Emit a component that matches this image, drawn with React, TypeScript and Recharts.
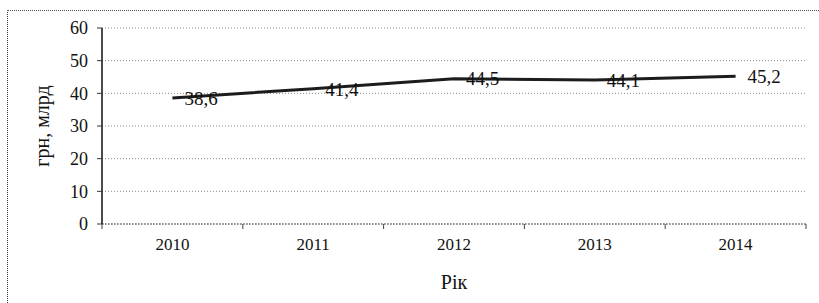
import React from 'react';
import { LineChart, Line, XAxis, YAxis, CartesianGrid, LabelList, Label } from 'recharts';

const years = ['2010', '2011', '2012', '2013', '2014'];
const values = [38.6, 41.4, 44.5, 44.1, 45.2];
const yTicks = [0, 10, 20, 30, 40, 50, 60];
const yTitle = 'грн, млрд';
const xTitle = 'Рік';

const data = years.map((y, i) => ({ year: y, value: values[i] }));

const FONT = '"Liberation Serif"';
const TXT = { fontFamily: FONT };

const XTick = (props: any) => {
  const { x, y, payload, index, visibleTicksCount } = props;
  const off = payload && payload.offset ? payload.offset : 70.4;
  const axisY = y - 14;
  const isLast = index === (visibleTicksCount ?? years.length) - 1;
  return (
    <g>
      <line x1={x - off} y1={axisY} x2={x - off} y2={axisY + 5} stroke="#444" strokeWidth={1} />
      {isLast && <line x1={x + off} y1={axisY} x2={x + off} y2={axisY + 5} stroke="#444" strokeWidth={1} />}
      <text x={x} y={y} dy="0.71em" textAnchor="middle" fill="#111" fontSize={17} style={TXT}>
        {payload.value}
      </text>
    </g>
  );
};

const YTitle = (props: any) => {
  const { viewBox } = props;
  const cx = viewBox.x + 49;
  const cy = viewBox.y + viewBox.height / 2;
  return (
    <text x={cx} y={cy} transform={`rotate(-90 ${cx} ${cy})`} textAnchor="middle" fill="#111" fontSize={20} style={TXT}>
      {yTitle}
    </text>
  );
};

const YTick = (props: any) => {
  const { x, y, payload } = props;
  return (
    <text x={x} y={y} dy="0.355em" textAnchor="end" fill="#111" fontSize={18} style={TXT}>
      {payload.value}
    </text>
  );
};

const XTitle = (props: any) => {
  const { viewBox } = props;
  const cx = viewBox.x + viewBox.width / 2;
  const cy = viewBox.y + viewBox.height + 11;
  return (
    <text x={cx} y={cy} dy="0.71em" textAnchor="middle" fill="#111" fontSize={20} style={TXT}>
      {xTitle}
    </text>
  );
};

const fmt = (v: any) => String(v).replace('.', ',');

export default function App() {
  return (
    <div style={{ position: 'absolute', left: 0, top: 0, width: 819, height: 303, background: '#fff' }}>
      <div
        style={{
          position: 'absolute',
          left: 7,
          top: 10,
          width: 812,
          height: 293,
          borderTop: '1px dotted #555',
          borderLeft: '1px dotted #333',
          boxSizing: 'border-box',
        }}
      />
      <LineChart
        width={819}
        height={303}
        data={data}
        margin={{ top: 28, right: 13, left: 0, bottom: 39 }}
        style={{ position: 'absolute', left: 0, top: 0 }}
      >
        <CartesianGrid vertical={false} horizontal stroke="#8a8a8a" strokeDasharray="1 2" />
        <XAxis
          dataKey="year"
          scale="band"
          height={40}
          tickLine={false}
          tickSize={6}
          tickMargin={8}
          axisLine={{ stroke: '#666', strokeDasharray: '2 1' }}
          tick={<XTick />}
          interval={0}
        >
          <Label content={<XTitle />} />
        </XAxis>
        <YAxis
          width={102}
          domain={[0, 60]}
          ticks={yTicks}
          interval={0}
          tickSize={5}
          tickMargin={9}
          tickLine={{ stroke: '#333' }}
          axisLine={{ stroke: '#111', strokeWidth: 1.5 }}
          tick={<YTick />}
        >
          <Label content={<YTitle />} />
        </YAxis>
        <Line
          type="linear"
          dataKey="value"
          stroke="#1c1c1c"
          strokeWidth={3}
          dot={false}
          isAnimationActive={false}
        >
          <LabelList
            dataKey="value"
            position="right"
            offset={12}
            formatter={fmt}
            content={(p: any) => (
              <text x={p.x + p.width + 12} y={p.y + p.height / 2} dy="0.355em" textAnchor="start" fill="#111" fontSize={19} style={TXT}>
                {fmt(p.value)}
              </text>
            )}
          />
        </Line>
      </LineChart>
    </div>
  );
}
